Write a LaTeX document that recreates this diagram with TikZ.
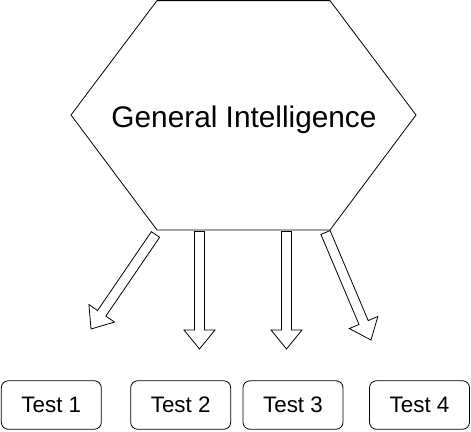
\documentclass[tikz,border=0pt]{standalone}
\usepackage{fontspec}
\setmainfont{Liberation Sans}
\usetikzlibrary{calc}
\tikzset{
  hexline/.style={draw=black, line width=0.8pt, line join=miter},
  blockarr/.style={draw=black, fill=white, line width=0.8pt, line join=miter},
  testbox/.style={draw=black, line width=0.8pt, rounded corners=7pt, minimum width=100pt, minimum height=48.5pt, inner sep=0pt, font=\fontsize{22.4}{26}\selectfont},
  titletext/.style={inner sep=0pt, font=\fontsize{29.8}{34}\selectfont}
}
\newcommand\blkarrow[2]{%
  \coordinate (hb) at ($(#2)!19pt!(#1)$);
  \draw[blockarr] ($(#1)!5pt!90:(#2)$) -- ($(hb)!5pt!-90:(#1)$) -- ($(hb)!15.5pt!-90:(#1)$) -- (#2)
    -- ($(hb)!15.5pt!90:(#1)$) -- ($(hb)!5pt!90:(#1)$) -- ($(#1)!5pt!-90:(#2)$) -- cycle;
}
\begin{document}
\begin{tikzpicture}[x=1pt,y=-1pt]
\useasboundingbox (0,0) rectangle (471,431);
% hexagon
\coordinate (h1) at (157,0.6);
\coordinate (h2) at (330,0.6);
\coordinate (h3) at (416,115);
\coordinate (h4) at (330,230);
\coordinate (h5) at (157,230);
\coordinate (h6) at (71,115);
\draw[hexline] (h1) -- (h2) -- (h3) -- (h4) -- (h5) -- (h6) -- cycle;
\node[titletext, anchor=base] (gi) at (244,127.3) {General Intelligence};
% arrows
\coordinate (a1s) at (155.5,234.5); \coordinate (a1e) at (91,329);
\coordinate (a2s) at (199.5,231.5); \coordinate (a2e) at (199.5,349);
\coordinate (a3s) at (286.5,231.5); \coordinate (a3e) at (286.5,349);
\coordinate (a4s) at (325.5,232.5); \coordinate (a4e) at (371,340);
\blkarrow{a1s}{a1e}
\blkarrow{a2s}{a2e}
\blkarrow{a3s}{a3e}
\blkarrow{a4s}{a4e}
% boxes
\node[testbox] (t1) at (51.3,405) {Test 1};
\node[testbox] (t2) at (180.7,405) {Test 2};
\node[testbox] (t3) at (293,405) {Test 3};
\node[testbox] (t4) at (419.5,405) {Test 4};
\end{tikzpicture}
\end{document}
